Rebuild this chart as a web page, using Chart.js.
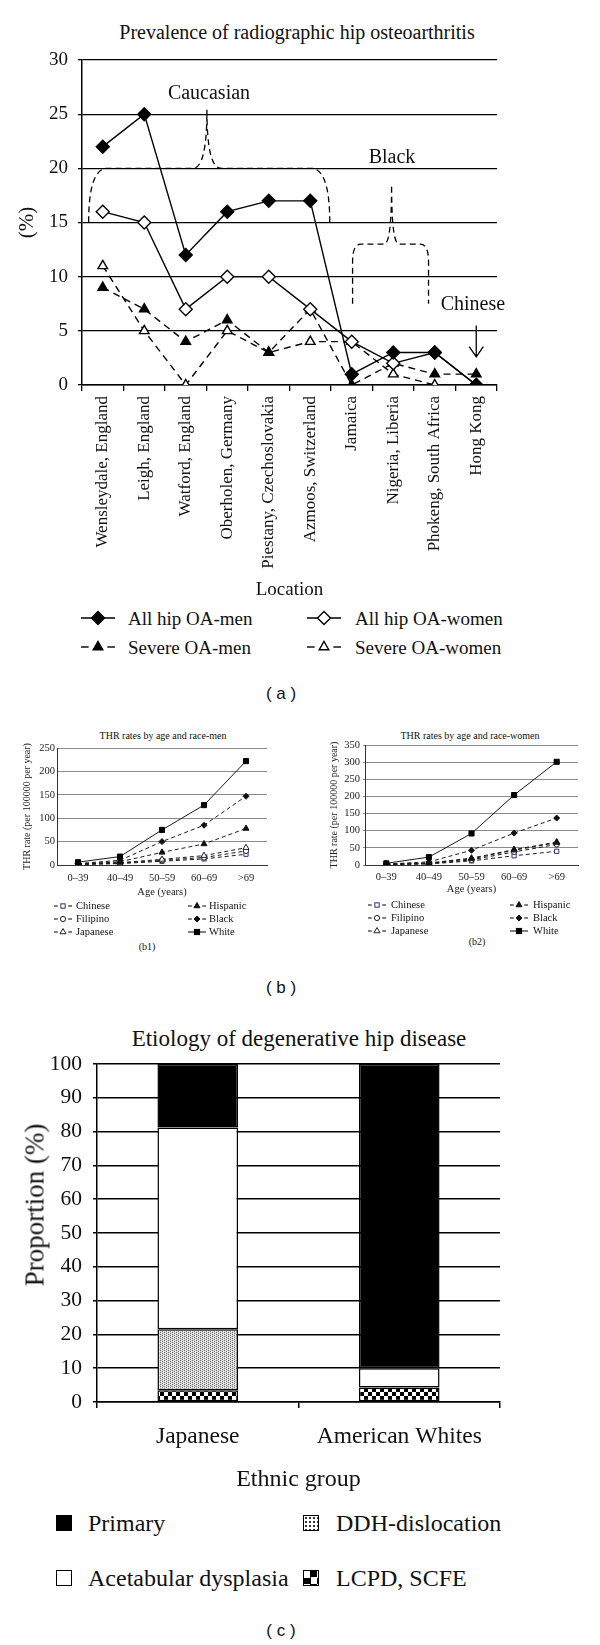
<!DOCTYPE html>
<html>
<head>
<meta charset="utf-8">
<script src="https://cdn.jsdelivr.net/npm/chart.js@4.4.1/dist/chart.umd.min.js"></script>
<style>
  html, body { margin: 0; padding: 0; background: #fff; }
  #page { position: relative; width: 600px; height: 1645px; overflow: hidden; font-family: "Liberation Serif", "Times New Roman", serif; color: #111; }
  canvas { position: absolute; }
  .t { position: absolute; white-space: nowrap; transform: translate(-50%, -50%); line-height: 1; }
  .l { position: absolute; white-space: nowrap; transform: translateY(-50%); line-height: 1; }
  .cap { font-family: "Liberation Sans", Arial, sans-serif; font-size: 17px; }
  .ico { position: absolute; width: 16px; height: 16px; box-sizing: border-box; border: 1.5px solid #000; }
</style>
</head>
<body>
<div id="page">
  <div class="t" style="left:297px;top:32px;font-size:20px">Prevalence of radiographic hip osteoarthritis</div>
  <canvas id="chartA" width="600" height="605" style="left:0;top:0"></canvas>
  <div class="t cap" style="left:281px;top:693px">( a )</div>

  <div class="t" style="left:163px;top:736px;font-size:10px">THR rates by age and race-men</div>
  <canvas id="chartB1" width="300" height="176" style="left:0;top:725px"></canvas>
  <div class="t" style="left:147px;top:947px;font-size:10px">(b1)</div>

  <div class="t" style="left:470px;top:736px;font-size:10px">THR rates by age and race-women</div>
  <canvas id="chartB2" width="300" height="173" style="left:300px;top:725px"></canvas>
  <div class="t" style="left:477px;top:942px;font-size:10px">(b2)</div>
  <div class="t cap" style="left:281px;top:987px">( b )</div>

  <div class="t" style="left:299px;top:1038px;font-size:23px">Etiology of degenerative hip disease</div>
  <canvas id="chartC" width="600" height="460" style="left:0;top:1040px"></canvas>
  <div class="t" style="left:35px;top:1205px;font-size:27px;transform:translate(-50%,-50%) rotate(-90deg)">Proportion (%)</div>
  <div class="t cap" style="left:281px;top:1630px">( c )</div>
</div>

<script>
// ---- (a) prevalence of radiographic hip OA ----
const locations = ['Wensleydale, England', 'Leigh, England', 'Watford, England', 'Oberholen, Germany',
  'Piestany, Czechoslovakia', 'Azmoos, Switzerland', 'Jamaica', 'Nigeria, Liberia',
  'Phokeng, South Africa', 'Hong Kong'];
const allHipMen = [22, 25, 12, 16, 17, 17, 1, 3, 3, 0];
const allHipWomen = [16, 15, 7, 10, 10, 7, 4, 2, 3, 0];
const severeMen = [9, 7, 4, 6, 3, 7, 0, 2, 1, 1];
const severeWomen = [11, 5, 0, 5, 3, 4, 4, 1, 0, 0];
const prevMax = 30;
const prevStep = 5;

// ---- (b) THR rates ----
const ageGroups = ['0–39', '40–49', '50–59', '60–69', '>69'];
const menChinese = [1, 3, 8, 13, 23];
const menFilipino = [1, 4, 10, 16, 30];
const menJapanese = [2, 5, 12, 20, 37];
const menHispanic = [2, 7, 27, 45, 78];
const menBlack = [3, 10, 50, 85, 147];
const menWhite = [6, 18, 75, 128, 222];
const womenChinese = [1, 3, 12, 27, 40];
const womenFilipino = [1, 4, 15, 38, 60];
const womenJapanese = [2, 5, 18, 43, 65];
const womenHispanic = [2, 6, 20, 45, 67];
const womenBlack = [3, 9, 43, 93, 137];
const womenWhite = [5, 23, 92, 204, 301];
const menMax = 250;
const womenMax = 350;
const thrStep = 50;

// ---- (c) etiology ----
const ethnicGroups = ['Japanese', 'American Whites'];
const lcpd = [3.5, 4.3];
const ddh = [18, 0];
const acetabular = [59.7, 5.7];
const primary = [18.8, 90];

const serif = '"Liberation Serif", "Times New Roman", serif';
const page = document.getElementById('page');

// group brackets and arrow on panel (a), placed in category/value units
const braces = [
  { left: -0.34, right: 5.47, cusp: 2.51, base: 20, foot: 15, peak: 25.4, rx: 0.45, ry: 5, cw: 0.34 },
  { left: 6.02, right: 7.85, cusp: 6.96, base: 13, foot: 7.5, peak: 18.5, rx: 0.2, ry: 1.6, cw: 0.18 }
];
const groupLabels = [
  { text: 'Caucasian', i: 2.56, v: 26.9 },
  { text: 'Black', i: 6.97, v: 21 },
  { text: 'Chinese', i: 8.92, v: 7.4 }
];

const groupsPlugin = {
  id: 'groups',
  beforeDatasetsDraw(chart) {
    const { ctx, scales: { x, y } } = chart;
    const X = i => x.getPixelForValue(i);
    const Y = v => y.getPixelForValue(v);
    ctx.save();
    ctx.strokeStyle = '#000';
    ctx.lineWidth = 1.3;
    ctx.setLineDash([6, 4]);
    braces.forEach(b => {
      ctx.beginPath();
      ctx.moveTo(X(b.left), Y(b.foot));
      ctx.lineTo(X(b.left), Y(b.base - b.ry));
      ctx.quadraticCurveTo(X(b.left), Y(b.base), X(b.left + b.rx), Y(b.base));
      ctx.lineTo(X(b.cusp - b.cw), Y(b.base));
      ctx.quadraticCurveTo(X(b.cusp), Y(b.base), X(b.cusp), Y(b.peak));
      ctx.quadraticCurveTo(X(b.cusp), Y(b.base), X(b.cusp + b.cw), Y(b.base));
      ctx.lineTo(X(b.right - b.rx), Y(b.base));
      ctx.quadraticCurveTo(X(b.right), Y(b.base), X(b.right), Y(b.base - b.ry));
      ctx.lineTo(X(b.right), Y(b.foot));
      ctx.stroke();
    });
    // arrow down to Hong Kong
    ctx.setLineDash([]);
    ctx.beginPath();
    ctx.moveTo(X(9), Y(5.5));
    ctx.lineTo(X(9), Y(2.6));
    ctx.moveTo(X(8.83), Y(3.55));
    ctx.lineTo(X(9), Y(2.6));
    ctx.lineTo(X(9.17), Y(3.55));
    ctx.stroke();
    ctx.fillStyle = '#111';
    ctx.font = '20px ' + serif;
    ctx.textAlign = 'center';
    ctx.textBaseline = 'middle';
    groupLabels.forEach(g => ctx.fillText(g.text, X(g.i), Y(g.v)));
    ctx.restore();
  }
};

function oaSet(label, data, style, filled, dashed, r) {
  return {
    label, data,
    borderColor: '#000', borderWidth: 1.4, borderDash: dashed ? [7, 5] : [],
    pointStyle: style, pointRadius: r, pointBorderWidth: 1.4,
    pointBorderColor: '#000', pointBackgroundColor: filled ? '#000' : '#fff',
    tension: 0
  };
}

new Chart(document.getElementById('chartA'), {
  type: 'line',
  data: {
    labels: locations,
    datasets: [
      oaSet('All hip OA-men', allHipMen, 'rectRot', true, false, 6.5),
      oaSet('All hip OA-women', allHipWomen, 'rectRot', false, false, 6.5),
      oaSet('Severe OA-men', severeMen, 'triangle', true, true, 5.5),
      oaSet('Severe OA-women', severeWomen, 'triangle', false, true, 5.5)
    ]
  },
  options: {
    responsive: false,
    animation: false,
    layout: { padding: { top: 60, right: 103, left: 0, bottom: 0 } },
    plugins: { legend: { display: false }, tooltip: { enabled: false } },
    scales: {
      x: {
        offset: true,
        grid: { offset: true, drawOnChartArea: false, color: '#000', lineWidth: 1.3, tickLength: 6 },
        border: { color: '#000', width: 1.5 },
        ticks: { autoSkip: false, minRotation: 90, maxRotation: 90, padding: 5, color: '#111', font: { family: serif, size: 17 } },
        title: { display: true, text: 'Location', color: '#111', font: { family: serif, size: 19 }, padding: { top: 0, bottom: 4 } },
        afterFit: s => { s.height = 220; }
      },
      y: {
        min: 0, max: prevMax,
        ticks: { stepSize: prevStep, padding: 10, color: '#111', font: { family: serif, size: 19 } },
        grid: { color: '#000', lineWidth: 1.3, tickLength: 4 },
        border: { color: '#000', width: 1.5 },
        title: { display: true, text: '(%)', color: '#111', font: { family: serif, size: 21 }, padding: { top: 15 } },
        afterFit: s => { s.width = 82; }
      }
    }
  },
  plugins: [groupsPlugin]
});

// ---- (b) charts ----
const thrStyles = {
  Chinese: { style: 'rect', filled: false, dashed: true, r: 3, color: '#2e2e78' },
  Filipino: { style: 'circle', filled: false, dashed: true, r: 2.6, color: '#222' },
  Japanese: { style: 'triangle', filled: false, dashed: true, r: 3.5, color: '#222' },
  Hispanic: { style: 'triangle', filled: true, dashed: true, r: 3.5, color: '#111' },
  Black: { style: 'rectRot', filled: true, dashed: true, r: 3, color: '#111' },
  White: { style: 'rect', filled: true, dashed: false, r: 3.6, color: '#000' }
};

function thrSet(name, data) {
  const st = thrStyles[name];
  return {
    label: name, data,
    borderColor: '#1a1a1a', borderWidth: 1, borderDash: st.dashed ? [4, 3] : [],
    pointStyle: st.style, pointRadius: st.r, pointBorderWidth: 1,
    pointBorderColor: st.color, pointBackgroundColor: st.filled ? st.color : '#fff',
    tension: 0
  };
}

function thrChart(id, sets, yMax, box) {
  return new Chart(document.getElementById(id), {
    type: 'line',
    data: { labels: ageGroups, datasets: sets },
    options: {
      responsive: false,
      animation: false,
      layout: { padding: { top: box.top, right: box.right, left: 0, bottom: 0 } },
      plugins: { legend: { display: false }, tooltip: { enabled: false } },
      scales: {
        x: {
          offset: true,
          grid: { drawOnChartArea: false, drawTicks: false },
          border: { color: '#333', width: 1 },
          ticks: { padding: box.xPad, color: '#222', font: { family: serif, size: 10.5 } },
          title: { display: true, text: 'Age (years)', color: '#222', font: { family: serif, size: 10.5 }, padding: { top: 0, bottom: 2 } },
          afterFit: s => { s.height = box.xH; }
        },
        y: {
          min: 0, max: yMax,
          ticks: { stepSize: thrStep, padding: box.yPad, color: '#222', font: { family: serif, size: 10.5 } },
          grid: { color: '#8a8a8a', lineWidth: 1, tickLength: box.tick },
          border: { color: '#333', width: 1 },
          title: { display: true, text: 'THR rate (per 100000 per year)', color: '#222', font: { family: serif, size: 10 }, padding: { top: box.titlePad } },
          afterFit: s => { s.width = box.yW; }
        }
      }
    }
  });
}

// draw order: White on top
thrChart('chartB1', [
  thrSet('White', menWhite), thrSet('Black', menBlack), thrSet('Hispanic', menHispanic),
  thrSet('Japanese', menJapanese), thrSet('Filipino', menFilipino), thrSet('Chinese', menChinese)
], menMax, { top: 23, right: 33, yW: 57, xH: 36, xPad: 7, yPad: 2, tick: 0, titlePad: 21 });

thrChart('chartB2', [
  thrSet('White', womenWhite), thrSet('Black', womenBlack), thrSet('Hispanic', womenHispanic),
  thrSet('Japanese', womenJapanese), thrSet('Filipino', womenFilipino), thrSet('Chinese', womenChinese)
], womenMax, { top: 20, right: 22, yW: 65, xH: 33, xPad: 5.5, yPad: 3, tick: 2, titlePad: 28 });

// ---- (c) chart ----
function makePattern(size, draw) {
  const c = document.createElement('canvas');
  c.width = size; c.height = size;
  draw(c.getContext('2d'));
  return c.getContext('2d').createPattern(c, 'repeat');
}
const checker = makePattern(8, g => {
  g.fillStyle = '#fff'; g.fillRect(0, 0, 8, 8);
  g.fillStyle = '#000'; g.fillRect(0, 0, 4, 4); g.fillRect(4, 4, 4, 4);
});
const stipple = makePattern(4, g => {
  g.fillStyle = '#dcdcdc'; g.fillRect(0, 0, 4, 4);
  g.fillStyle = '#6a6a6a';
  g.fillRect(0, 0, 1, 1); g.fillRect(0, 2, 1, 1); g.fillRect(2, 1, 1, 1); g.fillRect(2, 3, 1, 1);
  g.fillStyle = '#ffffff';
  g.fillRect(1, 1, 1, 1); g.fillRect(3, 3, 1, 1);
});

new Chart(document.getElementById('chartC'), {
  type: 'bar',
  data: {
    labels: ethnicGroups,
    datasets: [
      { label: 'LCPD, SCFE', data: lcpd, backgroundColor: checker },
      { label: 'DDH-dislocation', data: ddh, backgroundColor: stipple },
      { label: 'Acetabular dysplasia', data: acetabular, backgroundColor: '#fff' },
      { label: 'Primary', data: primary, backgroundColor: '#000' }
    ]
  },
  options: {
    responsive: false,
    animation: false,
    layout: { padding: { top: 20, right: 100, left: 0, bottom: 0 } },
    plugins: { legend: { display: false }, tooltip: { enabled: false } },
    datasets: { bar: { borderColor: '#000', borderWidth: 1.5, borderSkipped: false, barPercentage: 0.8, categoryPercentage: 0.5 } },
    scales: {
      x: {
        stacked: true,
        offset: true,
        grid: { offset: true, drawOnChartArea: false, color: '#000', lineWidth: 1.5, tickLength: 6 },
        border: { color: '#000', width: 1.5 },
        ticks: { padding: 15, color: '#111', font: { family: serif, size: 23.5 } },
        title: { display: true, text: 'Ethnic group', color: '#111', font: { family: serif, size: 24 }, padding: { top: 0, bottom: 5.6 } },
        afterFit: s => { s.height = 98; }
      },
      y: {
        stacked: true,
        min: 0, max: 100,
        ticks: { stepSize: 10, padding: 11, color: '#111', font: { family: serif, size: 21.5 } },
        grid: { color: '#000', lineWidth: 1.5, tickLength: 4 },
        border: { color: '#000', width: 1.5 },
        afterFit: s => { s.width = 97; }
      }
    }
  }
});

// ---- legends (HTML) ----
function shapeSvg(style, cx, cy, r, fill, stroke, sw) {
  if (style === 'rectRot') {
    return `<polygon points="${cx},${cy - r} ${cx + r},${cy} ${cx},${cy + r} ${cx - r},${cy}" fill="${fill}" stroke="${stroke}" stroke-width="${sw}"/>`;
  }
  if (style === 'triangle') {
    const h = r * 0.866;
    return `<polygon points="${cx},${cy - r} ${cx + h},${cy + r / 2} ${cx - h},${cy + r / 2}" fill="${fill}" stroke="${stroke}" stroke-width="${sw}"/>`;
  }
  if (style === 'circle') {
    return `<circle cx="${cx}" cy="${cy}" r="${r}" fill="${fill}" stroke="${stroke}" stroke-width="${sw}"/>`;
  }
  const s = r * 0.72;
  return `<rect x="${cx - s}" y="${cy - s}" width="${2 * s}" height="${2 * s}" fill="${fill}" stroke="${stroke}" stroke-width="${sw}"/>`;
}

function lineLegend(x, y, w, h, r, st, textX, label, size, sw) {
  const cx = w / 2, cy = h / 2;
  const seg = st.dashed
    ? `<line x1="1" y1="${cy}" x2="${w * 0.24}" y2="${cy}" stroke="#000" stroke-width="${sw}"/><line x1="${w * 0.76}" y1="${cy}" x2="${w - 1}" y2="${cy}" stroke="#000" stroke-width="${sw}"/>`
    : `<line x1="1" y1="${cy}" x2="${w - 1}" y2="${cy}" stroke="#000" stroke-width="${sw}"/>`;
  const fill = st.filled ? (st.color || '#000') : '#fff';
  const svg = `<svg width="${w}" height="${h}" style="position:absolute;left:${x}px;top:${y - h / 2}px">${seg}${shapeSvg(st.style, cx, cy, r, fill, st.color || '#000', sw)}</svg>`;
  page.insertAdjacentHTML('beforeend', svg + `<span class="l" style="left:${textX}px;top:${y}px;font-size:${size}px">${label}</span>`);
}

// (a)
lineLegend(80, 618, 36, 18, 6.5, { style: 'rectRot', filled: true, dashed: false }, 128, 'All hip OA-men', 19, 1.4);
lineLegend(306, 618, 36, 18, 6.5, { style: 'rectRot', filled: false, dashed: false }, 355, 'All hip OA-women', 19, 1.4);
lineLegend(80, 647, 36, 18, 5.5, { style: 'triangle', filled: true, dashed: true }, 128, 'Severe OA-men', 19, 1.4);
lineLegend(306, 647, 36, 18, 5.5, { style: 'triangle', filled: false, dashed: true }, 355, 'Severe OA-women', 19, 1.4);

// (b1), (b2)
const leftNames = ['Chinese', 'Filipino', 'Japanese'];
const rightNames = ['Hispanic', 'Black', 'White'];
[[53, 76, 187, 209, [906, 919, 932]], [367, 391, 509, 533, [905, 918, 931]]].forEach(([lx, lt, rx, rt, rows]) => {
  leftNames.forEach((n, k) => lineLegend(lx, rows[k], 20, 12, thrStyles[n].r, thrStyles[n], lt, n, 10.5, 1));
  rightNames.forEach((n, k) => lineLegend(rx, rows[k], 20, 12, thrStyles[n].r, thrStyles[n], rt, n, 10.5, 1));
});

// (c)
const boxItems = [
  { label: 'Primary', x: 56, tx: 88, y: 1523, bg: '#000' },
  { label: 'DDH-dislocation', x: 303, tx: 336, y: 1523, bg: 'radial-gradient(#333 40%, transparent 45%) 0 0/4px 4px, #fff' },
  { label: 'Acetabular dysplasia', x: 56, tx: 88, y: 1578, bg: '#fff' },
  { label: 'LCPD, SCFE', x: 303, tx: 336, y: 1578, bg: 'repeating-conic-gradient(#000 0 25%, #fff 0 50%) 0 0/13px 13px' }
];
boxItems.forEach(b => {
  page.insertAdjacentHTML('beforeend',
    `<div class="ico" style="left:${b.x}px;top:${b.y - 8}px;background:${b.bg}"></div>` +
    `<span class="l" style="left:${b.tx}px;top:${b.y}px;font-size:24px">${b.label}</span>`);
});
</script>
</body>
</html>
